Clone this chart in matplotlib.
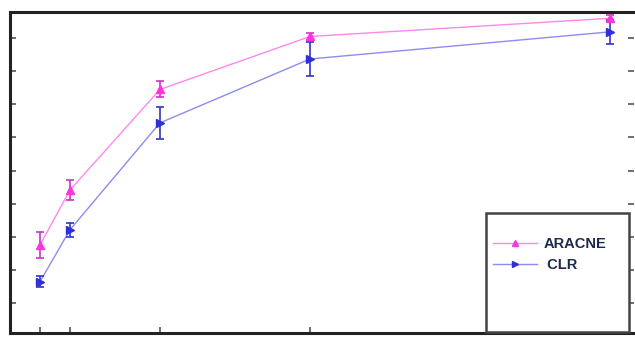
import matplotlib
matplotlib.use("Agg")
import matplotlib.pyplot as plt
from matplotlib.patches import Rectangle
from matplotlib.lines import Line2D

# Data
x_vals = [10, 20, 50, 100, 200]
aracne = [0.275, 0.441, 0.745, 0.905, 0.960]
aracne_err = [0.039, 0.030, 0.024, 0.012, 0.009]
clr = [0.164, 0.321, 0.644, 0.837, 0.919]
clr_err = [0.017, 0.021, 0.048, 0.050, 0.037]
y_ticks = [0.1, 0.2, 0.3, 0.4, 0.5, 0.6, 0.7, 0.8, 0.9]
series_names = ["ARACNE", " CLR"]

fig = plt.figure(figsize=(6.35, 3.39), dpi=100)
ax = fig.add_axes([10 / 635, 6 / 339, 624 / 635, 321 / 339])

mag_line = "#ff88ee"
mag_mark = "#ff33dd"
blue_line = "#8c8cf0"
blue_mark = "#3030d8"

ax.plot(x_vals, aracne, color=mag_line, lw=1.0, zorder=2)
ax.errorbar(x_vals, aracne, yerr=aracne_err, fmt="^", color=mag_mark,
            ecolor="#cc33cc", elinewidth=1.2, capsize=3, capthick=1.2,
            markersize=5.5, zorder=3)
ax.plot(x_vals, clr, color=blue_line, lw=1.0, zorder=2)
ax.errorbar(x_vals, clr, yerr=clr_err, fmt=">", color=blue_mark,
            ecolor="#3333cc", elinewidth=1.2, capsize=3, capthick=1.2,
            markersize=5.5, zorder=3)

ax.set_xlim(0, 208)
ax.set_ylim(0.009, 0.979)
ax.set_xticks(x_vals)
ax.set_yticks(y_ticks)
ax.tick_params(direction="in", length=4, width=1.2, color="#555555",
               labelleft=False, labelbottom=False, right=True, top=False)

for s in ["left", "bottom", "top"]:
    ax.spines[s].set_linewidth(2.2)
    ax.spines[s].set_color("#222222")
ax.spines["right"].set_visible(False)

# Legend box
fig_box = Rectangle((486 / 635, 7 / 339), (629 - 486) / 635, (332 - 213) / 339,
                    transform=fig.transFigure, fill=True, facecolor="white",
                    edgecolor="#444444", lw=1.8, zorder=5)
fig.patches.append(fig_box)

handles = [
    Line2D([], [], color=mag_line, lw=1.0, marker="^", markersize=5,
           markerfacecolor=mag_mark, markeredgecolor=mag_mark),
    Line2D([], [], color=blue_line, lw=1.0, marker=">", markersize=5,
           markerfacecolor=blue_mark, markeredgecolor=blue_mark),
]
leg = fig.legend(handles, series_names, loc="upper left",
                 bbox_to_anchor=(480 / 635, 1 - 224 / 339), frameon=False,
                 handlelength=3.0, handletextpad=0.45, labelspacing=0.45,
                 prop={"weight": "bold", "size": 10.5, "family": "Liberation Sans"})
for t in leg.get_texts():
    t.set_color("#1c2b4a")
leg.set_zorder(6)

fig.savefig("out.png", dpi=100)
